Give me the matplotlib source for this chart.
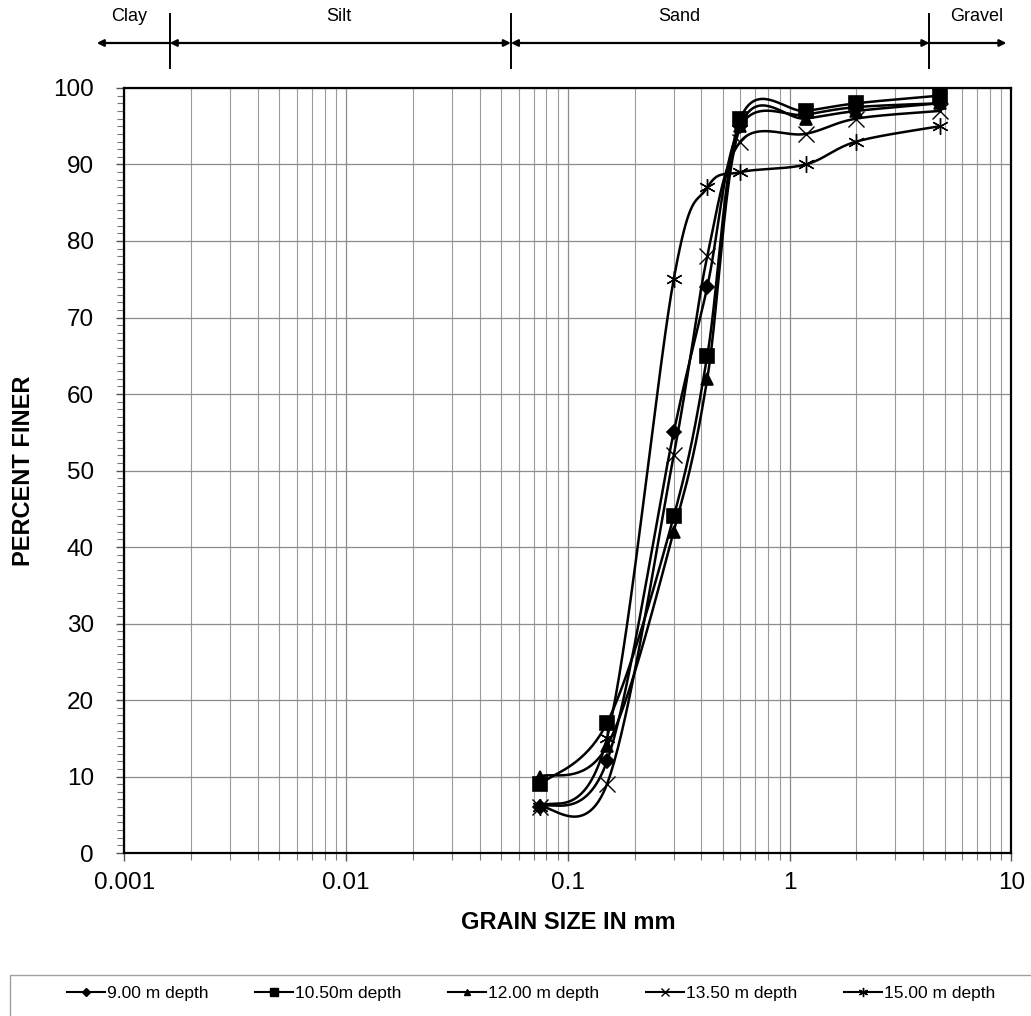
import numpy as np
import matplotlib.pyplot as plt
from matplotlib.lines import Line2D
from matplotlib.patches import Rectangle
from matplotlib.ticker import LogLocator, NullFormatter, MultipleLocator, FixedLocator, FixedFormatter

plt.rcParams['font.family'] = ['Liberation Sans', 'DejaVu Sans']

# sieve sizes [mm]
sizes = [0.075, 0.15, 0.3, 0.425, 0.6, 1.18, 2.0, 4.75]

# percent finer for each depth
d_900 = [6, 12, 55, 74, 95, 96.5, 97.5, 98]
d_1050 = [9, 17, 44, 65, 96, 97, 98, 99]
d_1200 = [10, 14, 42, 62, 95, 96, 97, 98]
d_1350 = [6, 9, 52, 78, 93, 94, 96, 97]
d_1500 = [6, 15, 75, 87, 89, 90, 93, 95]

labels = ["9.00 m depth", "10.50m depth", "12.00 m depth",
          "13.50 m depth", "15.00 m depth"]
series = [d_900, d_1050, d_1200, d_1350, d_1500]
markers = ["D", "s", "^", "x", (6, 2, 0)]
msizes = [7.5, 10, 9, 11, 12]
mews = [1.2, 1.2, 1.2, 1.0, 1.0]

# soil class boundaries [mm] used for the top arrows
b_left = 0.00075
b_clay_silt = 0.0016
b_silt_sand = 0.0553
b_sand_gravel = 4.27
b_right = 9.5
class_names = ["Clay", "Silt", "Sand", "Gravel"]
class_pos = [0.00105, 0.0093, 0.318, 6.97]

# pixel scaling for excel-like smoothing
sx = 221.7  # px per decade
sy = 7.65   # px per percent


def smooth(xs, ys, n=40):
    u = np.log10(np.array(xs, float)) * sx
    v = np.array(ys, float) * sy
    P = np.column_stack([u, v])
    P_ext = np.vstack([P[0], P, P[-1]])
    out = []
    t = np.linspace(0, 1, n)
    for i in range(len(P) - 1):
        p0 = P_ext[i + 1]
        p3 = P_ext[i + 2]
        c1 = p0 + (P_ext[i + 2] - P_ext[i]) / 6.0
        c2 = p3 - (P_ext[i + 3] - P_ext[i + 1]) / 6.0
        b = ((1 - t) ** 3)[:, None] * p0 + (3 * (1 - t) ** 2 * t)[:, None] * c1 \
            + (3 * (1 - t) * t ** 2)[:, None] * c2 + (t ** 3)[:, None] * p3
        out.append(b)
    out = np.vstack(out)
    return 10 ** (out[:, 0] / sx), out[:, 1] / sy


fig = plt.figure(figsize=(10.31, 10.16), dpi=100)
ax = fig.add_axes([0.1207, 0.1604, 0.8603, 0.7530])

for ys, m, ms, mw in zip(series, markers, msizes, mews):
    xs_s, ys_s = smooth(sizes, ys)
    ax.plot(xs_s, ys_s, color="black", lw=1.8, zorder=3)
    ax.plot(sizes, ys, ls="none", marker=m, ms=ms, color="black",
            mew=mw, zorder=4)

ax.set_xscale("log")
ax.set_xlim(0.001, 10)
ax.set_ylim(0, 100)

ax.xaxis.set_minor_locator(LogLocator(base=10, subs=np.arange(2, 10), numticks=50))
ax.xaxis.set_minor_formatter(NullFormatter())
ax.xaxis.set_major_locator(FixedLocator([0.001, 0.01, 0.1, 1, 10]))
ax.xaxis.set_major_formatter(FixedFormatter(["0.001", "0.01", "0.1", "1", "10"]))
ax.yaxis.set_major_locator(MultipleLocator(10))
ax.yaxis.set_minor_locator(MultipleLocator(1))

ax.grid(True, which="major", axis="both", color="#8c8c8c", lw=0.9)
ax.grid(True, which="minor", axis="x", color="#9a9a9a", lw=0.8)

ax.tick_params(axis="both", which="major", labelsize=17.5, length=6,
               width=1, color="#555555", direction="out")
ax.tick_params(axis="both", which="minor", length=5, width=0.8,
               color="#777777", direction="out")
ax.tick_params(axis="x", which="major", pad=8)
ax.tick_params(axis="y", which="major", pad=16)

for sp in ax.spines.values():
    sp.set_linewidth(1.6)
    sp.set_color("black")

ax.set_xlabel("GRAIN SIZE IN mm", fontsize=17, fontweight="bold", labelpad=12)
ax.set_ylabel("PERCENT FINER", fontsize=17, fontweight="bold", labelpad=13)

# top class arrows
tr = ax.get_xaxis_transform()
y_arr = 1.0588
for x0, x1, style in [(b_clay_silt, b_left, "-|>"),
                      (b_clay_silt, b_silt_sand, "<|-|>"),
                      (b_silt_sand, b_sand_gravel, "<|-|>"),
                      (b_sand_gravel, b_right, "-|>")]:
    ax.annotate("", xy=(x1, y_arr), xytext=(x0, y_arr), xycoords=tr,
                textcoords=tr, annotation_clip=False,
                arrowprops=dict(arrowstyle=style, color="black", lw=1.6,
                                shrinkA=0, shrinkB=0,
                                mutation_scale=10))
for b in [b_clay_silt, b_silt_sand, b_sand_gravel]:
    ax.plot([b, b], [1.026, 1.097], transform=tr, color="black", lw=1.4,
            clip_on=False)
for name, xp in zip(class_names, class_pos):
    ax.text(xp, 1.093, name, transform=tr, ha="center", va="center",
            fontsize=13)

# legend
fig.patches.append(Rectangle((10 / 1031, -0.01), 1.05, (1016 - 975) / 1016 + 0.01,
                             transform=fig.transFigure, fill=False,
                             edgecolor="#a0a0a0", lw=1))
handles = [Line2D([], [], color="black", lw=1.5, marker=m, ms=ms * 0.55)
           for m, ms in zip(markers, msizes)]
fig.legend(handles, labels, loc="center", ncol=5, frameon=False,
           bbox_to_anchor=(0.515, (1016 - 993) / 1016), fontsize=12.5,
           handlelength=2.2, handletextpad=0.1, columnspacing=2.7)

fig.savefig("out.png", dpi=100)
